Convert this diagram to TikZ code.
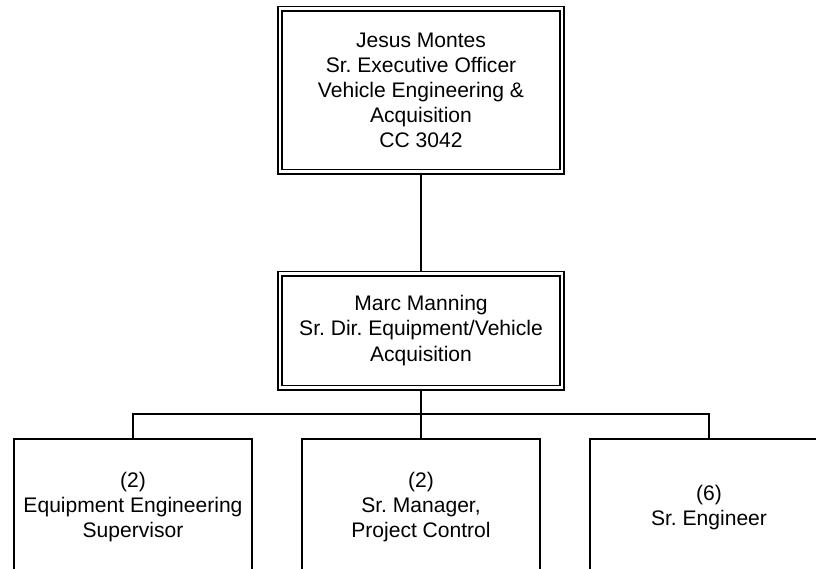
\documentclass[tikz,border=0pt]{standalone}
\usepackage{fontspec}
\setmainfont{Liberation Sans}
\usetikzlibrary{positioning}
\tikzstyle{every node}=[font=\frenchspacing\fontsize{15.8pt}{18.8pt}\selectfont, align=center]
\tikzstyle{head}=[draw, double, line width=1.2pt, double distance=2.1pt, inner sep=0pt, minimum width=211.5pt]
\tikzstyle{post}=[draw, line width=1.5pt, inner sep=0pt, minimum width=178.5pt, minimum height=102.75pt]
\tikzstyle{link}=[line width=1.3pt]

\begin{document}
\begin{tikzpicture}
    \useasboundingbox (0,0) rectangle (612pt,-426pt);
    \node[head, minimum height=122.25pt] (ceo) at (315.75pt,-67.5pt) {Jesus Montes\\Sr. Executive Officer\\Vehicle Engineering \&\\Acquisition\\CC 3042};
    \node[head, minimum height=85.5pt, below of=ceo, node distance=180.4pt] (dir) {Marc Manning\\Sr. Dir. Equipment/Vehicle\\Acquisition};
    \node[post, below of=dir, node distance=132.7pt] (mgr) {(2)\\Sr. Manager,\\Project Control};
    \node[post, left of=mgr, node distance=216pt] (sup) {(2)\\Equipment Engineering\\Supervisor};
    \node[post, right of=mgr, node distance=216pt] (eng) {(6)\\Sr. Engineer};
    \coordinate[below of=dir, node distance=62.6pt] (bus);
    \draw[link, shorten <=1.5pt, shorten >=1.5pt] (ceo) -- (dir);
    \draw[link, shorten <=1.5pt] (dir) -- (bus);
    \draw[link] (sup.north) |- (bus) -| (eng.north);
    \draw[link] (bus) -- (mgr);
\end{tikzpicture}
\end{document}
